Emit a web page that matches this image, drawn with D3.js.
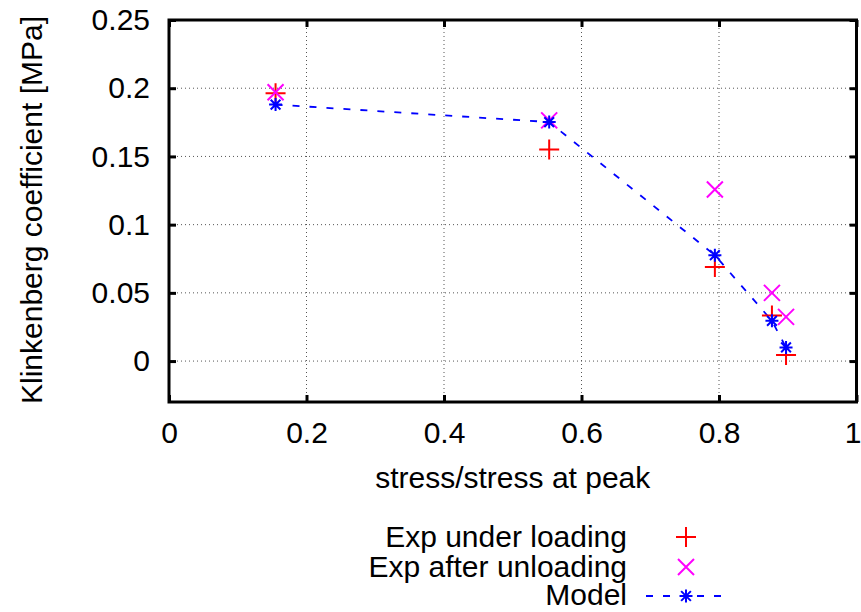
<!DOCTYPE html>
<html>
<head>
<meta charset="utf-8">
<script src="https://cdn.jsdelivr.net/npm/d3@7"></script>
<style>
  body { margin: 0; background: #fff; }
  text { font-family: "Liberation Sans", Arial, sans-serif; }
</style>
</head>
<body>
<div class="chart"></div>
<script>
// values
const stressRatio = [0.155, 0.553, 0.794, 0.877, 0.8975];
const expLoading = [0.1964, 0.155, 0.069, 0.0334, 0.0044];
const expUnloading = [0.197, 0.1764, 0.1257, 0.05, 0.0324];
const model = [0.188, 0.1752, 0.0776, 0.0295, 0.010];

const xTicks = [0, 0.2, 0.4, 0.6, 0.8, 1];
const yTicks = [0, 0.05, 0.1, 0.15, 0.2, 0.25];
const legendLabels = ['Exp under loading', 'Exp after unloading', 'Model'];

const chartWidth = 861;
const chartHeight = 612;
const fontSize = '30px';

const margin = { left: 169, right: 4.5, top: 20, bottom: 210 };
const width = chartWidth - margin.left - margin.right;
const height = chartHeight - margin.top - margin.bottom;

const svg = d3.select('.chart')
  .append('svg')
  .attr('width', chartWidth)
  .attr('height', chartHeight);

const g = svg.append('g')
  .attr('transform', `translate(${margin.left}, ${margin.top})`);

const xScale = d3.scaleLinear().domain([0, 1]).range([0, width]);
const yScale = d3.scaleLinear().domain([-0.03, 0.25]).range([height, 0]);

const fmt = d => (d === 0 ? '0' : String(d));

// grid
const grid = g.append('g')
  .attr('stroke', '#555')
  .attr('stroke-width', 1)
  .attr('stroke-dasharray', '1,3');
grid.selectAll('line.gx')
  .data(xTicks.slice(1, -1))
  .enter().append('line')
  .attr('x1', d => xScale(d)).attr('x2', d => xScale(d))
  .attr('y1', 0).attr('y2', height);
grid.selectAll('line.gy')
  .data(yTicks.slice(0, -1))
  .enter().append('line')
  .attr('y1', d => yScale(d)).attr('y2', d => yScale(d))
  .attr('x1', 0).attr('x2', width);

// axes with inward ticks
const tickLen = 7;
const xAxis = d3.axisBottom(xScale).tickValues(xTicks).tickSize(-tickLen).tickPadding(20).tickFormat(fmt);
const xAxisTop = d3.axisTop(xScale).tickValues(xTicks).tickSize(-tickLen).tickFormat('');
const yAxis = d3.axisLeft(yScale).tickValues(yTicks).tickSize(-tickLen).tickPadding(19).tickFormat(fmt);
const yAxisRight = d3.axisRight(yScale).tickValues(yTicks).tickSize(-tickLen).tickFormat('');

const styleAxis = sel => {
  sel.select('.domain').remove();
  sel.selectAll('.tick line').attr('stroke', '#000').attr('stroke-width', 3);
  sel.selectAll('.tick text')
    .attr('fill', '#000')
    .attr('font-size', fontSize)
    .attr('font-family', '"Liberation Sans", Arial, sans-serif');
};

const xAxisG = g.append('g').attr('transform', `translate(0, ${height})`).call(xAxis).call(styleAxis);
// keep the last label inside the page edge
xAxisG.selectAll('.tick text').filter(d => d === 1).attr('dx', -4);
g.append('g').call(xAxisTop).call(styleAxis);
g.append('g').call(yAxis).call(styleAxis);
g.append('g').attr('transform', `translate(${width}, 0)`).call(yAxisRight).call(styleAxis);

// frame
g.append('rect')
  .attr('width', width)
  .attr('height', height)
  .attr('fill', 'none')
  .attr('stroke', '#000')
  .attr('stroke-width', 3);

// axis titles
svg.append('text')
  .attr('x', margin.left + width / 2)
  .attr('y', 488)
  .attr('text-anchor', 'middle')
  .attr('font-size', fontSize)
  .text('stress/stress at peak');

svg.append('text')
  .attr('transform', 'translate(42, 210) rotate(-90)')
  .attr('text-anchor', 'middle')
  .attr('font-size', fontSize)
  .text('Klinkenberg coefficient [MPa]');

// markers
const plusPath = s => `M${-s},0H${s}M0,${-s}V${s}`;
const crossPath = s => `M${-s},${-s}L${s},${s}M${-s},${s}L${s},${-s}`;
const starPath = s => `M${-s},0H${s}M0,${-s}V${s}M${-s * 0.75},${-s * 0.75}L${s * 0.75},${s * 0.75}M${-s * 0.75},${s * 0.75}L${s * 0.75},${-s * 0.75}`;

const modelData = stressRatio.map((x, i) => ({ x, y: model[i] }));
const line = d3.line().x(d => xScale(d.x)).y(d => yScale(d.y));

g.append('path')
  .datum(modelData)
  .attr('d', line)
  .attr('fill', 'none')
  .attr('stroke', '#0000ff')
  .attr('stroke-width', 1.8)
  .attr('stroke-dasharray', '7,10');

const drawMarkers = (values, pathFn, size, color) => {
  g.append('g').selectAll('path')
    .data(stressRatio.map((x, i) => ({ x, y: values[i] })))
    .enter().append('path')
    .attr('transform', d => `translate(${xScale(d.x)}, ${yScale(d.y)})`)
    .attr('d', pathFn(size))
    .attr('fill', 'none')
    .attr('stroke', color)
    .attr('stroke-width', 2);
};

drawMarkers(expLoading, plusPath, 10, '#ff0000');
drawMarkers(expUnloading, crossPath, 8, '#ff00ff');
drawMarkers(model, starPath, 6.5, '#0000ff');

// legend
const legend = svg.append('g');
const legendBase = [547, 577, 605];
const legendSymY = [537, 567, 596];
const legendTextX = 627;
const legendSymX = 686;

legend.selectAll('text')
  .data(legendLabels)
  .enter().append('text')
  .attr('x', legendTextX)
  .attr('y', (d, i) => legendBase[i])
  .attr('text-anchor', 'end')
  .attr('font-size', fontSize)
  .text(d => d);

legend.append('path')
  .attr('transform', `translate(${legendSymX}, ${legendSymY[0]})`)
  .attr('d', plusPath(10))
  .attr('stroke', '#ff0000').attr('stroke-width', 2).attr('fill', 'none');
legend.append('path')
  .attr('transform', `translate(${legendSymX}, ${legendSymY[1]})`)
  .attr('d', crossPath(8))
  .attr('stroke', '#ff00ff').attr('stroke-width', 2).attr('fill', 'none');
legend.append('line')
  .attr('x1', 646).attr('x2', 728)
  .attr('y1', legendSymY[2]).attr('y2', legendSymY[2])
  .attr('stroke', '#0000ff').attr('stroke-width', 1.8)
  .attr('stroke-dasharray', '7,10');
legend.append('path')
  .attr('transform', `translate(${legendSymX}, ${legendSymY[2]})`)
  .attr('d', starPath(6.5))
  .attr('stroke', '#0000ff').attr('stroke-width', 2).attr('fill', 'none');
</script>
</body>
</html>
